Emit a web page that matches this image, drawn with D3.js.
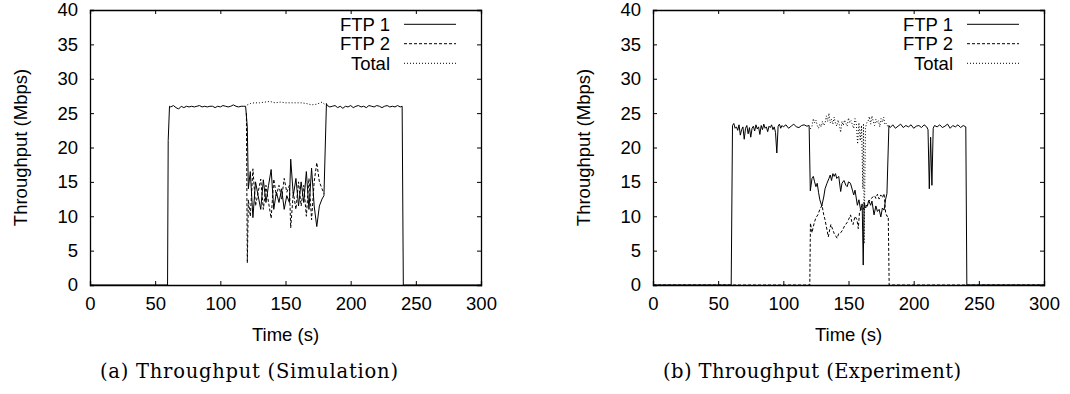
<!DOCTYPE html>
<html>
<head>
<meta charset="utf-8">
<script src="https://cdn.jsdelivr.net/npm/d3@7"></script>
<style>
body { margin: 0; background: #fff; }
</style>
</head>
<body>
<script>
// tick values shared by both panels
var xTicks = [0, 50, 100, 150, 200, 250, 300];
var yTicks = [0, 5, 10, 15, 20, 25, 30, 35, 40];
var seriesNames = ["FTP 1", "FTP 2", "Total"];
var captions = ["(a) Throughput (Simulation)", "(b) Throughput (Experiment)"];

// (a) simulation, [time, Mbps]
var simFtp1 = [[0,0],[59.5,0],[60,21],[61,26],[62,25.9],[64,26.1],[66,25.8],[68,25.6],[70,26],[72,25.8],[74,26],
  [76,25.9],[78,26],[80,25.9],[82,26],[84,26.1],[86,25.9],[88,26],[90,25.9],[92,26],[94,26],[96,25.8],[98,26],
  [100,25.9],[102,26.1],[104,26],[106,25.9],[108,26],[110,26.2],[112,26],[114,25.9],[116,26],[118,26],[119.4,26],
  [120.7,23],[121.5,14],[123,16.5],[125,9.8],[127,15],[129,13],[131,11],[133,15.3],[135,12],[137,14.5],[139,16.8],
  [141,11],[143,13.5],[145,12],[147,14],[149,11],[151,13],[153,12],[154,18.3],[156,13],[158,15.5],[160,11.5],
  [162,15],[164,12],[166,16.5],[168,11],[170,17],[172,11.5],[174,8.5],[176,11.5],[178,12.5],[179.5,13],
  [181.4,26.4],[182,26.1],[184,25.9],[186,26],[188,26.1],[190,25.8],
  [192,26],[194,25.7],[196,26],[198,25.9],[200,26.1],[202,25.8],[204,26],[206,26.1],[208,25.9],[210,26],[212,25.8],
  [214,26.1],[216,26],[218,25.9],[220,26.1],[222,26],[224,25.8],[226,26],[228,26.1],[230,25.9],[232,26],[234,25.9],
  [236,26.1],[238,25.9],[239.5,26],[240.4,0],[300,0]];
var simFtp2 = [[120,25],[120.7,3.2],[121.5,12.4],[123,10],[125,16.9],[127,11.5],[129,13.5],[131,15.4],[133,11],
  [135,14.5],[137,12],[139,9.7],[141,15.4],[143,13],[145,14.5],[147,12.5],[149,15.5],[151,13.5],[153,14.5],[154,8.3],
  [156,13.5],[158,11],[160,15],[162,11.5],[164,14.5],[166,10],[168,15.5],[170,9.5],[172,15],[174,17.8],[176,15],
  [178,14],[179.5,13.3]];
var simTotal = [[120.7,26.2],[123,26.4],[126,26.5],[130,26.5],[134,26.6],[138,26.7],[142,26.5],[146,26.6],[150,26.5],
  [154,26.5],[158,26.5],[162,26.5],[166,26.4],[170,26.2],[174,26.3],[178,26.6],[180,26.3]];

// (b) experiment, [time, Mbps]
var expFtp1 = [[0,0],[60,0],[61,23.2],[62,23.5],[63,22.8],[64,23],[65,22.5],[66,23.3],[67,21.8],[68,22.6],[69,23],
  [70,21.2],[71,22.8],[72,23.2],[73,22],[74,22.9],[75,21.5],[76,22.8],[77,23.1],[78,22.4],[79,23.3],[80,22.7],[81,23],
  [82,21.9],[83,23.2],[84,22.6],[85,23.4],[86,22.8],[87,23],[88,22.3],[89,23.1],[90,22.9],[91,23.3],[92,22.6],[93,23],
  [94,22.2],[95,19.2],[96,23.1],[97,23.4],[98,22.8],[99,23.2],[100,23],[102,23.3],[104,22.8],[106,23.1],[108,23.4],
  [110,23],[112,22.9],[114,23.2],[116,23.3],[118,23.1],[119.8,23.2],[120.7,13.7],[122,15.5],[123,15.8],[124,15],
  [125,14.3],[126,14.8],[127,13.5],[128,12.4],[129.5,11.5],[131,12.8],[132,14],[133.5,14.8],[135,15.5],[136,16],
  [137,15.2],[138,16.2],[139,15.8],[140,16.2],[141,15.5],[142.5,15.8],[144,13.6],[145,14.8],[146.5,15.2],[148,14.5],
  [149,14.3],[150,15],[151.5,14.8],[153,13.8],[154,13.1],[155,13.8],[156.8,11.6],[158,12.4],[159.3,10.9],[160.5,11.8],
  [161.3,2.9],[162,12],[163,11.2],[164.5,11.5],[165.5,12.3],[167,11.6],[168,12.2],[169.6,10.2],[171,11.5],[172.2,10.7],
  [173.5,11],[174.8,9.9],[176,11.2],[177.3,10.9],[178.5,12.5],[179.5,13.3],[181,23.2],[182,22.9],[184,23.3],[186,22.8],
  [188,23.1],[190,23.4],[192,22.9],[194,23.2],[196,23],[198,23.3],[200,22.8],[202,23.1],[204,23.2],[206,22.9],
  [208,23.3],[210,23],[211,22.6],[212,14],[213,21.5],[214,14.5],[215,22.8],[216,23.2],[218,23],[220,23.3],[222,22.9],
  [224,23.1],[226,23.4],[228,22.8],[230,23.2],[232,23],[234,23.3],[236,22.9],[238,23.2],[240,23],[240.8,0],[300,0]];
var expFtp2 = [[0,0],[120.3,0],[120.8,9],[122,7.6],[123,8.5],[124,9.2],[125,9.8],[126.5,10.2],[128,11],[129.7,11.6],
  [131,10.2],[132,9.5],[133,8.5],[134.5,7],[135.5,8],[136.5,8.8],[138,8],[139,7.5],[140,7.2],[141.3,6.8],[142.5,7.5],
  [144,7.6],[145.5,8],[147,8.6],[149,9.1],[150,9.5],[151.6,10.2],[152.5,9.2],[153.5,8.8],[155,10],[156.5,9.5],
  [157.5,8.2],[158.5,10.7],[159.3,10.9],[160.5,11.2],[161.3,11],[162.5,11.5],[164.5,11.6],[165.5,12.2],[167,12.4],
  [168.5,12.8],[170,13],[171,12.6],[172.2,13.2],[173.5,12.5],[174.8,13.1],[176,12.7],[177.3,13.3],[178.5,10.5],
  [179.5,10],[180.5,10],[181.2,0],[300,0]];
var expTotal = [[120.7,22.7],[122,23.1],[123,24.2],[124,23.6],[125,24],[126,23.2],[127,22.8],[128,23.4],[129,23],
  [130,23.8],[131,23.2],[132,23.5],[133,24.6],[134,23.8],[135,25],[136,23.6],[137,24.1],[138,23.4],[139,24.4],
  [140,23.5],[141,23.1],[142,24],[143,23.3],[144,22.2],[145,23.8],[146,23.2],[147,24],[148,23.5],[149,23.1],
  [150,24.3],[151,23.6],[152,23.9],[153,23.3],[154,22.8],[155,24.2],[156,23.5],[157,20.5],[158,23.6],[159,21],
  [160,23.2],[161,14],[161.5,23.5],[162,6],[163,22.8],[164,23.6],[165,23.8],[166,24.5],[167,23.4],[168,24.6],
  [169,23.8],[170,23.2],[171,24.1],[172,23.6],[173,23.9],[174,23],[175,24.2],[176,23.7],[177,24.4],[178,23.3],
  [179,23.5],[180,23.1],[181,23]];

var W = 1070, H = 394;
var plotTop = 10, plotBottom = 285, plotW = 391;
var dashes = [null, "3,2", "1,2"];
var sans = "'Liberation Sans', Arial, sans-serif";
var fs = "18.5px";

var svg = d3.select("body").append("svg").attr("width", W).attr("height", H);

function drawPanel(left, data, caption) {
    var x = d3.scaleLinear().domain([0, 300]).range([left, left + plotW]);
    var y = d3.scaleLinear().domain([0, 40]).range([plotBottom, plotTop]);
    var g = svg.append("g");

    var line = d3.line().x(function (d) { return x(d[0]); }).y(function (d) { return y(d[1]); });
    for (let i = 0; i < data.length; i++) {
        g.append("path").attr("d", line(data[i]))
            .attr("fill", "none").attr("stroke", "#000").attr("stroke-width", 1)
            .attr("stroke-dasharray", dashes[i]);
    }

    // axes with inward ticks on all four sides
    var ax = [
        d3.axisBottom(x).tickValues(xTicks).tickSize(-4).tickPadding(12),
        d3.axisLeft(y).tickValues(yTicks).tickSize(-4).tickPadding(12),
        d3.axisTop(x).tickValues(xTicks).tickSize(-4).tickFormat(""),
        d3.axisRight(y).tickValues(yTicks).tickSize(-4).tickFormat("")
    ];
    var pos = ["translate(0," + plotBottom + ")", "translate(" + left + ",0)",
        "translate(0," + plotTop + ")", "translate(" + (left + plotW) + ",0)"];
    for (let i = 0; i < 4; i++) {
        var a = g.append("g").attr("transform", pos[i]).call(ax[i]);
        a.select(".domain").attr("stroke", "#000").attr("stroke-width", 1.3);
        a.selectAll(".tick line").attr("stroke", "#000");
        a.selectAll("text").style("font-size", fs).style("font-family", sans).attr("fill", "#000");
    }

    g.append("text").attr("transform", "translate(" + (left - 69) + "," + ((plotTop + plotBottom) / 2) + ") rotate(-90)")
        .attr("text-anchor", "middle").attr("dy", "0.35em")
        .style("font-size", fs).style("font-family", sans).text("Throughput (Mbps)");
    g.append("text").attr("x", left + plotW / 2).attr("y", 341).attr("text-anchor", "middle")
        .style("font-size", fs).style("font-family", sans).text("Time (s)");
    g.append("text").attr("x", left + 159).attr("y", 378).attr("text-anchor", "middle")
        .attr("textLength", 298).attr("lengthAdjust", "spacing")
        .style("font-size", "19.5px").style("font-family", "'DejaVu Serif', serif").text(caption);

    // legend
    var ly = [24.3, 43.7, 63.3];
    for (let i = 0; i < 3; i++) {
        g.append("text").attr("x", left + plotW - 91).attr("y", ly[i]).attr("dy", "0.35em")
            .attr("text-anchor", "end").style("font-size", fs).style("font-family", sans).text(seriesNames[i]);
        g.append("line").attr("x1", left + plotW - 77).attr("x2", left + plotW - 25)
            .attr("y1", ly[i]).attr("y2", ly[i]).attr("stroke", "#000").attr("stroke-width", 1)
            .attr("stroke-dasharray", dashes[i]);
    }
}

drawPanel(90, [simFtp1, simFtp2, simTotal], captions[0]);
drawPanel(653, [expFtp1, expFtp2, expTotal], captions[1]);
</script>
</body>
</html>
